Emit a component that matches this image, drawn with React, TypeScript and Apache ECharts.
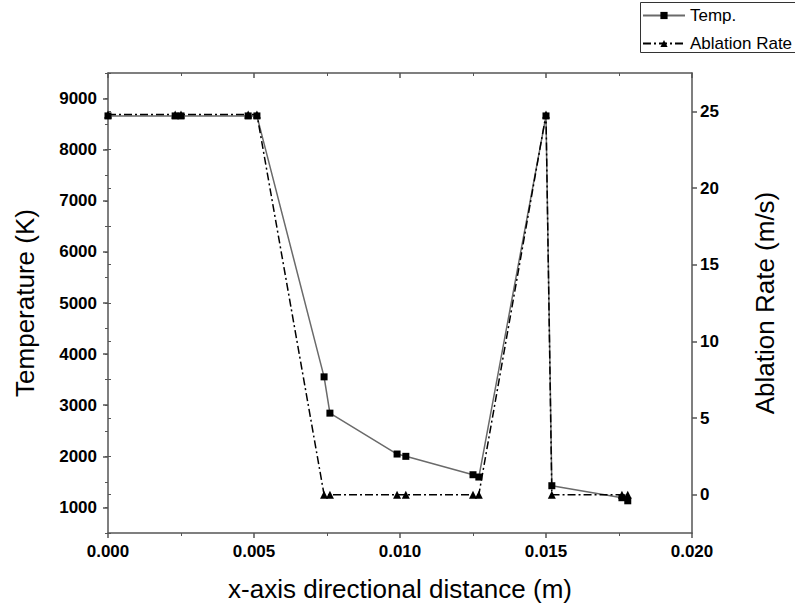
import React, { useEffect, useRef } from "react";
import * as echarts from "echarts";

const xPositions = [0, 0.0023, 0.0025, 0.0048, 0.0051, 0.0074, 0.0076, 0.0099, 0.0102, 0.0125, 0.0127, 0.015, 0.0152, 0.0176, 0.0178];
const tempValues = [8660, 8660, 8660, 8660, 8660, 3555, 2845, 2045, 2000, 1640, 1595, 8660, 1425, 1190, 1130];
const ablationValues = [24.8, 24.8, 24.8, 24.8, 24.8, 0, 0, 0, 0, 0, 0, 24.8, 0, 0, 0];
const tempTicks = [1000, 2000, 3000, 4000, 5000, 6000, 7000, 8000, 9000];
const ablationTicks = [0, 5, 10, 15, 20, 25];

const FONT = "Arial";
const AXIS_COLOR = "#555";

export default function App() {
  const ref = useRef<HTMLDivElement>(null);

  useEffect(() => {
    document.body.style.margin = "0";
    if (!ref.current) return;
    const chart = echarts.init(ref.current, null, { renderer: "svg" });

    const tempData = xPositions.map((x, i) => [x, tempValues[i]]);
    const ablData = xPositions.map((x, i) => [x, ablationValues[i]]);

    const labelStyle = { color: "#000", fontFamily: FONT, fontWeight: 700, fontSize: 17 };
    const nameStyle = { color: "#000", fontFamily: FONT, fontSize: 26 };

    chart.setOption({
      animation: false,
      backgroundColor: "#fff",
      grid: { left: 108, right: 103, top: 73, bottom: 79, containLabel: false },
      graphic: [
        {
          type: "rect",
          z: 0,
          shape: { x: 640.5, y: 2.5, width: 220, height: 50 },
          style: { fill: "#fff", stroke: "#333", lineWidth: 1 },
        },
      ],
      legend: {
        left: 640,
        top: 2,
        orient: "vertical",
        padding: [4, 4, 3, 2],
        itemWidth: 42,
        itemHeight: 9,
        itemGap: 9,
        textStyle: { color: "#000", fontFamily: FONT, fontSize: 17, lineHeight: 19 },
        data: ["Temp.", "Ablation Rate"],
        z: 10,
      },
      xAxis: [
        {
          type: "value",
          position: "bottom",
          min: 0,
          max: 0.02,
          interval: 0.005,
          name: "x-axis directional distance (m)",
          nameLocation: "middle",
          nameGap: 43,
          nameTextStyle: nameStyle,
          axisLine: { show: true, onZero: false, lineStyle: { color: AXIS_COLOR, width: 1.5 } },
          axisTick: { show: true, inside: false, length: 5, lineStyle: { color: AXIS_COLOR, width: 1.5 } },
          minorTick: { show: true, splitNumber: 2, length: 3, lineStyle: { color: AXIS_COLOR, width: 1 } },
          axisLabel: { ...labelStyle, margin: 10, formatter: (v: number) => v.toFixed(3) },
          splitLine: { show: false },
        },
        {
          type: "value",
          position: "top",
          min: 0,
          max: 0.02,
          interval: 0.005,
          axisLine: { show: true, onZero: false, lineStyle: { color: AXIS_COLOR, width: 1.5 } },
          axisTick: { show: true, inside: true, length: 5, lineStyle: { color: AXIS_COLOR, width: 1.5 } },
          minorTick: { show: true, splitNumber: 2, length: 3, lineStyle: { color: AXIS_COLOR, width: 1 } },
          axisLabel: { show: false },
          splitLine: { show: false },
        },
      ],
      yAxis: [
        {
          type: "value",
          position: "left",
          min: 500,
          max: 9500,
          name: "Temperature (K)",
          nameLocation: "middle",
          nameGap: 70,
          nameRotate: 90,
          nameTextStyle: nameStyle,
          axisLine: { show: true, onZero: false, lineStyle: { color: AXIS_COLOR, width: 1.5 } },
          axisTick: { show: true, inside: false, length: 5, customValues: tempTicks, lineStyle: { color: AXIS_COLOR, width: 1.5 } },
          axisLabel: { ...labelStyle, margin: 11, customValues: tempTicks, formatter: (v: number) => String(v) },
          splitLine: { show: false },
        },
        {
          type: "value",
          position: "right",
          min: -2.5,
          max: 27.5,
          name: "Ablation Rate (m/s)",
          nameLocation: "middle",
          nameGap: 60,
          nameRotate: 90,
          nameTextStyle: nameStyle,
          axisLine: { show: true, onZero: false, lineStyle: { color: AXIS_COLOR, width: 1.5 } },
          axisTick: { show: true, inside: false, length: 5, customValues: ablationTicks, lineStyle: { color: AXIS_COLOR, width: 1.5 } },
          axisLabel: { ...labelStyle, margin: 8, customValues: ablationTicks, formatter: (v: number) => String(v) },
          splitLine: { show: false },
        },
        {
          type: "value",
          position: "left",
          min: 500,
          max: 9500,
          interval: 500,
          axisLine: { show: false },
          axisTick: { show: true, inside: false, length: 3, lineStyle: { color: AXIS_COLOR, width: 1 } },
          axisLabel: { show: false },
          splitLine: { show: false },
        },
        {
          type: "value",
          position: "right",
          min: -2.5,
          max: 27.5,
          interval: 2.5,
          axisLine: { show: false },
          axisTick: { show: true, inside: false, length: 3, lineStyle: { color: AXIS_COLOR, width: 1 } },
          axisLabel: { show: false },
          splitLine: { show: false },
        },
      ],
      series: [
        {
          name: "Temp.",
          type: "line",
          xAxisIndex: 0,
          yAxisIndex: 0,
          data: tempData,
          symbol: "rect",
          symbolSize: 7,
          itemStyle: { color: "#000" },
          lineStyle: { color: "#6a6a6a", width: 1.5, type: "solid" },
          z: 2,
        },
        {
          name: "Ablation Rate",
          type: "line",
          xAxisIndex: 0,
          yAxisIndex: 1,
          data: ablData,
          symbol: "triangle",
          symbolSize: 8,
          itemStyle: { color: "#000" },
          lineStyle: { color: "#000", width: 1.5, type: [8, 3, 2, 3] },
          z: 3,
        },
      ],
    });

    return () => chart.dispose();
  }, []);

  return <div ref={ref} style={{ width: 795, height: 612 }} />;
}
